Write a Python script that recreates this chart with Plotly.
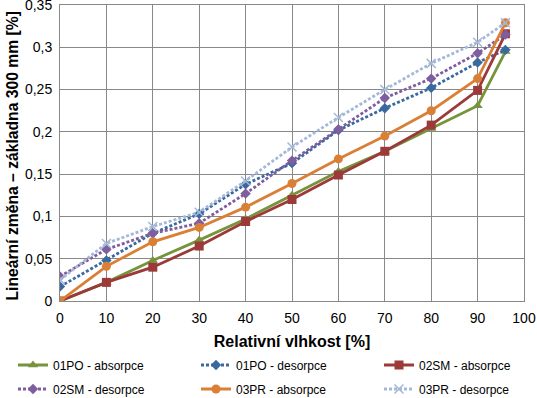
import plotly.graph_objects as go

x_rh = [0, 10, 20, 30, 40, 50, 60, 70, 80, 90, 96]

po01_abs = [0, 0.022, 0.048, 0.072, 0.097, 0.125, 0.153, 0.177, 0.204, 0.231, 0.295]
po01_des = [0.017, 0.048, 0.080, 0.103, 0.138, 0.163, 0.202, 0.228, 0.252, 0.282, 0.297]
sm02_abs = [0, 0.022, 0.040, 0.065, 0.094, 0.120, 0.149, 0.177, 0.208, 0.249, 0.316]
sm02_des = [0.029, 0.061, 0.080, 0.092, 0.127, 0.166, 0.203, 0.240, 0.263, 0.293, 0.315]
pr03_abs = [0, 0.041, 0.070, 0.087, 0.111, 0.139, 0.168, 0.195, 0.225, 0.263, 0.329]
pr03_des = [0.025, 0.068, 0.088, 0.105, 0.142, 0.182, 0.217, 0.250, 0.281, 0.306, 0.329]

names = ["01PO - absorpce", "01PO - desorpce", "02SM - absorpce",
         "02SM - desorpce", "03PR - absorpce", "03PR - desorpce"]

y_tickvals = [0, 0.05, 0.1, 0.15, 0.2, 0.25, 0.3, 0.35]
y_ticktext = ["0", "0,05", "0,1", "0,15", "0,2", "0,25", "0,3", "0,35"]
x_tickvals = [0, 10, 20, 30, 40, 50, 60, 70, 80, 90, 100]

FONT = "Liberation Sans, Arial, sans-serif"
W, H = 537, 398

series = [
    (names[0], po01_abs, "#77933C", "solid", "triangle-up", 9),
    (names[1], po01_des, "#3A69A0", "dot", "diamond", 8),
    (names[2], sm02_abs, "#9B3A38", "solid", "square", 9),
    (names[3], sm02_des, "#7E5E9E", "dot", "diamond", 8),
    (names[4], pr03_abs, "#DA7F36", "solid", "circle", 9),
    (names[5], pr03_des, "#A4B8D7", "dot", "x-thin", 9),
]

# legend slot positions (pixels in the page): 3 columns x 2 rows
leg_x = [13, 196, 379]
leg_y = [365, 389]

fig = go.Figure()
layout_legends = {}
for i, (name, ys, color, dash, sym, size) in enumerate(series):
    marker = dict(symbol=sym, size=size, color=color)
    if sym == "x-thin":
        marker["line"] = dict(color=color, width=1.5)
    key = "legend" if i == 0 else f"legend{i + 1}"
    fig.add_trace(go.Scatter(
        x=x_rh, y=ys, name=name, mode="lines+markers",
        line=dict(color=color, width=2.8, dash=("3px,2px" if dash == "dot" else "solid")),
        marker=marker, legend=key,
    ))
    layout_legends[key] = dict(
        orientation="h", xref="container", yref="container",
        x=leg_x[i % 3] / W, y=1 - leg_y[i // 3] / H,
        xanchor="left", yanchor="middle",
        font=dict(family=FONT, size=12, color="#000"),
        bgcolor="rgba(0,0,0,0)",
    )

fig.update_layout(
    width=W, height=H,
    margin=dict(l=60, r=13, t=5, b=97, autoexpand=False),
    paper_bgcolor="white", plot_bgcolor="white",
    font=dict(family=FONT, size=14, color="#000"),
    showlegend=True,
    **layout_legends,
    xaxis=dict(
        range=[0, 100], tickvals=x_tickvals, ticks="",
        showgrid=True, gridcolor="#888888", gridwidth=1,
        showline=True, linecolor="#888888", linewidth=1, mirror=True,
        zeroline=False, ticklabelstandoff=4, ticklabeloverflow="allow",
        tickfont=dict(family=FONT, size=14),
        title=dict(text="<b>Relativní vlhkost [%]</b>", font=dict(family=FONT, size=16), standoff=14),
    ),
    yaxis=dict(
        range=[0, 0.35001], tickvals=y_tickvals, ticktext=y_ticktext, ticks="",
        showgrid=True, gridcolor="#888888", gridwidth=1,
        showline=True, linecolor="#888888", linewidth=1, mirror=True,
        zeroline=False, ticklabelstandoff=4, ticklabeloverflow="allow",
        tickfont=dict(family=FONT, size=14),
    ),
    annotations=[dict(
        text="<b>Lineární změna – základna 300 mm [%]</b>",
        xref="paper", yref="paper",
        x=(12 - 60) / 464, y=1 - (156.5 - 5) / 296,
        xanchor="center", yanchor="middle", textangle=-90, showarrow=False,
        font=dict(family=FONT, size=15.7, color="#000"),
    )],
)

fig.write_html("out.html", post_script="document.body.style.margin='0';",
               config={"displayModeBar": False})
